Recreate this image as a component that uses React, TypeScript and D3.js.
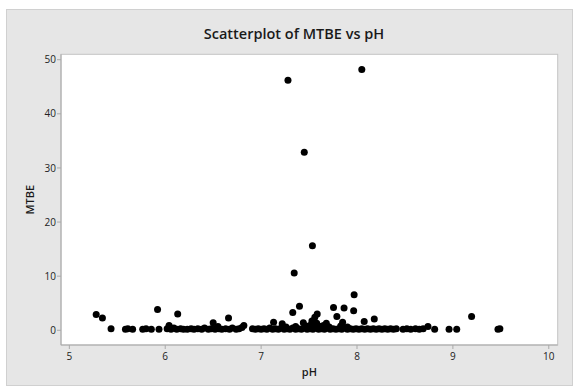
import React from "react";
import * as d3 from "d3";

// [pH, MTBE] readings grouped by how far they sit above the floor
const floorReadings: [number, number][] = [
  [5.435, 0.3], [5.585, 0.2], [5.61, 0.3], [5.66, 0.2], [5.765, 0.2], [5.8, 0.3], [5.855, 0.2], [5.935, 0.2],
  [6.02, 0.3], [6.06, 0.2], [6.09, 0.4], [6.12, 0.2], [6.16, 0.3], [6.19, 0.2], [6.23, 0.2], [6.27, 0.3],
  [6.3, 0.2], [6.34, 0.3], [6.38, 0.2], [6.41, 0.4], [6.45, 0.2], [6.48, 0.3], [6.52, 0.2], [6.56, 0.3],
  [6.59, 0.2], [6.63, 0.3], [6.67, 0.2], [6.7, 0.4], [6.74, 0.2], [6.77, 0.3], [6.8, 0.5],
  [6.91, 0.3], [6.94, 0.2], [6.97, 0.3], [7.0, 0.2], [7.03, 0.3], [7.06, 0.2], [7.09, 0.4], [7.12, 0.2],
  [7.15, 0.3], [7.18, 0.2], [7.21, 0.4], [7.24, 0.2], [7.27, 0.3], [7.3, 0.2], [7.33, 0.4], [7.36, 0.2],
  [7.39, 0.3], [7.42, 0.2], [7.45, 0.4], [7.48, 0.2], [7.51, 0.3], [7.54, 0.2], [7.57, 0.4], [7.6, 0.2],
  [7.63, 0.3], [7.66, 0.2], [7.69, 0.4], [7.72, 0.2], [7.75, 0.3], [7.78, 0.2], [7.81, 0.3], [7.84, 0.2],
  [7.87, 0.4], [7.9, 0.2], [7.93, 0.3], [7.96, 0.2], [7.99, 0.3], [8.02, 0.2], [8.05, 0.3], [8.08, 0.2],
  [8.11, 0.3], [8.14, 0.2], [8.17, 0.3], [8.2, 0.2], [8.23, 0.3], [8.26, 0.2], [8.29, 0.3], [8.32, 0.2],
  [8.35, 0.3], [8.38, 0.2], [8.41, 0.3],
  [8.48, 0.2], [8.52, 0.3], [8.56, 0.2], [8.61, 0.3], [8.65, 0.2], [8.69, 0.3], [8.81, 0.2],
  [8.96, 0.2], [9.04, 0.2], [9.47, 0.2], [9.49, 0.3],
];

const raisedReadings: [number, number][] = [
  [6.04, 0.9], [6.55, 0.7], [6.82, 0.9], [7.26, 0.6], [7.36, 0.7], [7.47, 0.8], [7.52, 1.0], [7.58, 1.3],
  [7.62, 0.7], [7.65, 0.9], [7.71, 0.6], [7.83, 0.8], [7.9, 0.6], [8.74, 0.7],
  [5.28, 2.9], [5.345, 2.25], [5.92, 3.85], [6.13, 3.0], [6.5, 1.4], [6.66, 2.25], [7.13, 1.5], [7.22, 1.2],
  [7.33, 3.3], [7.4, 4.45], [7.44, 1.4], [7.53, 1.7], [7.56, 2.4], [7.585, 3.0], [7.68, 1.3], [7.755, 4.2],
  [7.79, 2.55], [7.865, 4.1], [7.965, 3.6], [7.85, 1.5], [8.075, 1.6], [8.18, 2.1], [9.195, 2.55],
];

const highReadings: [number, number][] = [
  [7.28, 46.2], [8.05, 48.2], [7.45, 32.9], [7.535, 15.6], [7.345, 10.6], [7.97, 6.55],
];

const xTicks = [5, 6, 7, 8, 9, 10];
const yTicks = [0, 10, 20, 30, 40, 50];

const W = 576;
const H = 389;
const plot = { left: 61, right: 557.7, top: 54.3, bottom: 345 };
const font = "'Open Sans', 'Noto Sans', sans-serif";
const axisGrey = "#a9a9a9";

export default function App() {
  const x = d3.scaleLinear().domain([4.913, 10.093]).range([plot.left, plot.right]);
  const y = d3.scaleLinear().domain([-2.72, 51.0]).range([plot.bottom, plot.top]);
  const points = [...floorReadings, ...raisedReadings, ...highReadings];

  return (
    <svg
      width={W}
      height={H}
      viewBox={`0 0 ${W} ${H}`}
      style={{ position: "absolute", left: 0, top: 0, background: "#ffffff" }}
      fontFamily={font}
    >
      <rect x={6.5} y={9.5} width={566} height={376} fill="#e6e6e6" stroke="#d0d0d0" />
      <rect
        x={plot.left}
        y={plot.top}
        width={plot.right - plot.left}
        height={plot.bottom - plot.top}
        fill="#ffffff"
        stroke="#c4c4c4"
      />
      <line x1={plot.left} x2={plot.left} y1={plot.top} y2={plot.bottom} stroke={axisGrey} />
      <line x1={plot.left} x2={plot.right} y1={plot.bottom} y2={plot.bottom} stroke={axisGrey} />

      <text x={294} y={38.5} textAnchor="middle" fontSize={14.5} fontWeight={600} fill="#1a1a1a">
        Scatterplot of MTBE vs pH
      </text>

      {yTicks.map((t) => (
        <g key={`y${t}`}>
          <line x1={plot.left - 4} x2={plot.left} y1={y(t)} y2={y(t)} stroke={axisGrey} />
          <text x={plot.left - 5} y={y(t) + 3.6} textAnchor="end" fontSize={10} fill="#222">
            {t}
          </text>
        </g>
      ))}

      {xTicks.map((t) => (
        <g key={`x${t}`}>
          <line x1={x(t)} x2={x(t)} y1={plot.bottom} y2={plot.bottom + 4} stroke={axisGrey} />
          <text x={x(t)} y={359.5} textAnchor="middle" fontSize={10} fill="#222">
            {t}
          </text>
        </g>
      ))}

      <text
        x={(plot.left + plot.right) / 2}
        y={375.5}
        textAnchor="middle"
        fontSize={11}
        fontWeight={600}
        fill="#1a1a1a"
      >
        pH
      </text>
      <text
        transform={`translate(34, ${(plot.top + plot.bottom) / 2}) rotate(-90)`}
        textAnchor="middle"
        fontSize={11}
        fontWeight={600}
        fill="#1a1a1a"
      >
        MTBE
      </text>

      {points.map(([ph, m], i) => (
        <circle key={i} cx={x(ph)} cy={y(m)} r={3.5} fill="#000" />
      ))}
    </svg>
  );
}
